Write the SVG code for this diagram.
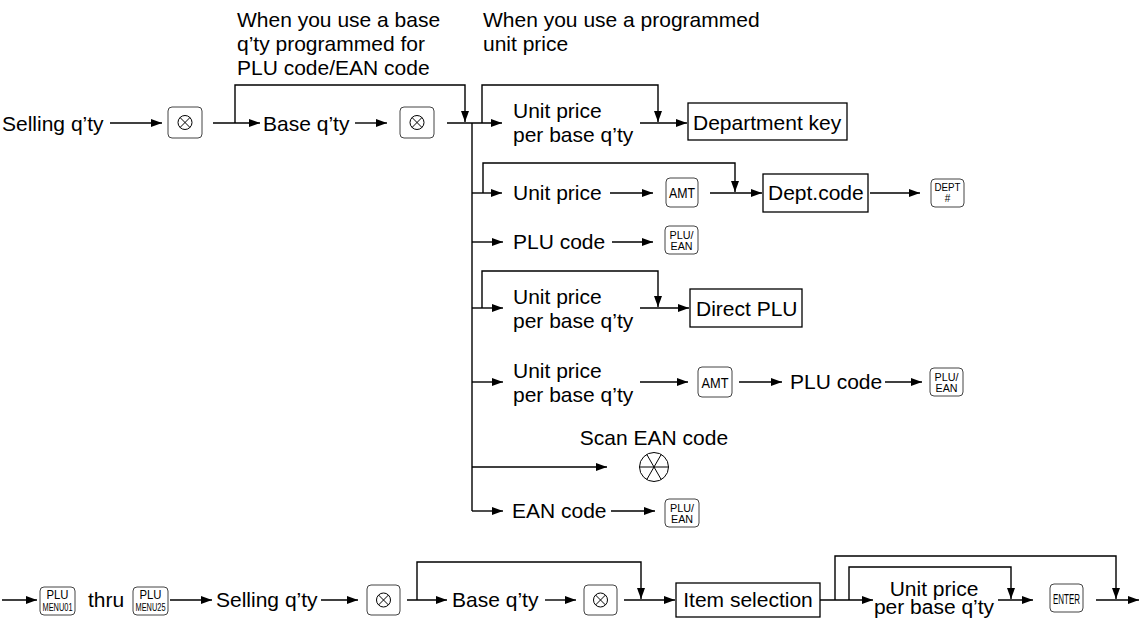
<svg xmlns="http://www.w3.org/2000/svg" width="1141" height="619" viewBox="0 0 1141 619">
<defs>
<marker id="ah" markerUnits="userSpaceOnUse" markerWidth="11" markerHeight="8" refX="11" refY="4" orient="auto"><path d="M0,0 L11,4 L0,8 z" fill="#000"/></marker>
<style>
.t{font-family:"Liberation Sans",Arial,sans-serif;font-size:21px;fill:#000}
.k{font-family:"Liberation Sans",Arial,sans-serif;fill:#000}
.key{fill:#fff;stroke:#444;stroke-width:1}
.box{fill:#fff;stroke:#000;stroke-width:1.3}
.c{fill:none;stroke:#000;stroke-width:1.4}
.a{fill:none;stroke:#000;stroke-width:1.4;marker-end:url(#ah)}
.x{fill:none;stroke:#000;stroke-width:1}
</style>
</defs>
<rect width="1141" height="619" fill="#fff"/>

<g id="connectors">
<path class="a" d="M110,123 H162"/>
<path class="a" d="M213,123 H260"/>
<path class="a" d="M235,123 V85 H465 V122"/>
<path class="a" d="M355,123 H387"/>
<path class="a" d="M447,123 H502"/>
<path class="c" d="M472,123 V511"/>
<path class="a" d="M482,123 V85 H658 V122"/>
<path class="a" d="M640,123 H687"/>
<path class="a" d="M472,193 H502"/>
<path class="a" d="M483,193 V163 H735 V192"/>
<path class="a" d="M610,193 H653"/>
<path class="a" d="M710,193 H762"/>
<path class="a" d="M870,193 H920"/>
<path class="a" d="M472,242 H503"/>
<path class="a" d="M612,242 H653"/>
<path class="a" d="M472,308 H503"/>
<path class="a" d="M482,308 V271 H658 V307"/>
<path class="a" d="M640,308 H689"/>
<path class="a" d="M472,382 H503"/>
<path class="a" d="M640,382 H688"/>
<path class="a" d="M739,382 H782"/>
<path class="a" d="M885,382 H922"/>
<path class="a" d="M472,467 H607"/>
<path class="a" d="M472,511 H503"/>
<path class="a" d="M611,511 H655"/>
<path class="a" d="M2,600 H37"/>
<path class="a" d="M170,600 H212"/>
<path class="a" d="M321,600 H358"/>
<path class="a" d="M407,600 H447"/>
<path class="a" d="M417,600 V562 H641 V599"/>
<path class="a" d="M545,600 H576"/>
<path class="a" d="M624,600 H675"/>
<path class="a" d="M820,600 H873"/>
<path class="a" d="M835,600 V556 H1116 V599"/>
<path class="a" d="M849,600 V567 H1011 V599"/>
<path class="a" d="M998,600 H1033"/>
<path class="a" d="M1096,600 H1139"/>
</g>

<g id="label-base-qty-note">
<text class="t" x="237" y="27">When you use a base</text>
<text class="t" x="237" y="51">q’ty programmed for</text>
<text class="t" x="237" y="75">PLU code/EAN code</text>
</g>
<g id="label-unit-price-note">
<text class="t" x="483" y="27">When you use a programmed</text>
<text class="t" x="483" y="51">unit price</text>
</g>

<g id="selling-qty-1"><text class="t" x="2" y="131">Selling q’ty</text></g>
<g id="x-key-1">
<rect class="key" x="168" y="107" width="34" height="31" rx="4"/>
<circle class="x" cx="185" cy="122.5" r="7"/>
<path class="x" d="M180,117.5 L190,127.5 M190,117.5 L180,127.5"/>
</g>
<g id="base-qty-1"><text class="t" x="263" y="131">Base q’ty</text></g>
<g id="x-key-2">
<rect class="key" x="400" y="107" width="34" height="31" rx="4"/>
<circle class="x" cx="417" cy="122.5" r="7"/>
<path class="x" d="M412,117.5 L422,127.5 M422,117.5 L412,127.5"/>
</g>

<g id="unit-price-1">
<text class="t" x="513" y="118">Unit price</text>
<text class="t" x="513" y="142">per base q’ty</text>
</g>
<g id="department-key">
<rect class="box" x="688" y="103" width="159" height="37"/>
<text class="t" x="693" y="130">Department key</text>
</g>

<g id="unit-price-2"><text class="t" x="513" y="200">Unit price</text></g>
<g id="amt-key-1">
<rect class="key" x="666" y="178" width="32" height="29" rx="4"/>
<text class="k" x="682" y="198" font-size="15" text-anchor="middle" textLength="26" lengthAdjust="spacingAndGlyphs">AMT</text>
</g>
<g id="dept-code">
<rect class="box" x="763" y="174" width="105" height="38"/>
<text class="t" x="768" y="200">Dept.code</text>
</g>
<g id="dept-key">
<rect class="key" x="931" y="179" width="33" height="28" rx="4"/>
<text class="k" x="947.5" y="191" font-size="11" text-anchor="middle" textLength="26" lengthAdjust="spacingAndGlyphs">DEPT</text>
<text class="k" x="947.5" y="202" font-size="10" text-anchor="middle">#</text>
</g>

<g id="plu-code-1"><text class="t" x="513" y="249">PLU code</text></g>
<g id="plu-ean-key-1">
<rect class="key" x="665" y="226" width="33" height="28" rx="4"/>
<text class="k" x="681.5" y="238.5" font-size="11" text-anchor="middle" textLength="24" lengthAdjust="spacingAndGlyphs">PLU/</text>
<text class="k" x="681.5" y="249.5" font-size="11" text-anchor="middle" textLength="22" lengthAdjust="spacingAndGlyphs">EAN</text>
</g>

<g id="unit-price-3">
<text class="t" x="513" y="304">Unit price</text>
<text class="t" x="513" y="328">per base q’ty</text>
</g>
<g id="direct-plu">
<rect class="box" x="690" y="289" width="112" height="38"/>
<text class="t" x="696" y="316">Direct PLU</text>
</g>

<g id="unit-price-4">
<text class="t" x="513" y="378">Unit price</text>
<text class="t" x="513" y="402">per base q’ty</text>
</g>
<g id="amt-key-2">
<rect class="key" x="698" y="367" width="34" height="30" rx="4"/>
<text class="k" x="715" y="388" font-size="15" text-anchor="middle" textLength="27" lengthAdjust="spacingAndGlyphs">AMT</text>
</g>
<g id="plu-code-2"><text class="t" x="790" y="389">PLU code</text></g>
<g id="plu-ean-key-2">
<rect class="key" x="930" y="368" width="33" height="28" rx="4"/>
<text class="k" x="946.5" y="380.5" font-size="11" text-anchor="middle" textLength="24" lengthAdjust="spacingAndGlyphs">PLU/</text>
<text class="k" x="946.5" y="391.5" font-size="11" text-anchor="middle" textLength="22" lengthAdjust="spacingAndGlyphs">EAN</text>
</g>

<g id="scan-ean">
<text class="t" x="654" y="445" text-anchor="middle">Scan EAN code</text>
<circle class="x" cx="654" cy="467" r="14.5" stroke-width="1.3"/>
<path class="x" stroke-width="1.3" d="M639.5,467 H668.5 M646.75,454.4 L661.25,479.6 M661.25,454.4 L646.75,479.6"/>
</g>

<g id="ean-code"><text class="t" x="512" y="518">EAN code</text></g>
<g id="plu-ean-key-3">
<rect class="key" x="665" y="499" width="34" height="28" rx="4"/>
<text class="k" x="682" y="511.5" font-size="11" text-anchor="middle" textLength="24" lengthAdjust="spacingAndGlyphs">PLU/</text>
<text class="k" x="682" y="522.5" font-size="11" text-anchor="middle" textLength="22" lengthAdjust="spacingAndGlyphs">EAN</text>
</g>

<g id="plu-menu01-key">
<rect class="key" x="40" y="587" width="35" height="28" rx="4"/>
<text class="k" x="57.5" y="599" font-size="12" text-anchor="middle" textLength="22" lengthAdjust="spacingAndGlyphs">PLU</text>
<text class="k" x="57.5" y="611" font-size="10" text-anchor="middle" textLength="30" lengthAdjust="spacingAndGlyphs">MENU01</text>
</g>
<g id="thru"><text class="t" x="88" y="607">thru</text></g>
<g id="plu-menu25-key">
<rect class="key" x="133" y="587" width="35" height="28" rx="4"/>
<text class="k" x="150.5" y="599" font-size="12" text-anchor="middle" textLength="22" lengthAdjust="spacingAndGlyphs">PLU</text>
<text class="k" x="150.5" y="611" font-size="10" text-anchor="middle" textLength="30" lengthAdjust="spacingAndGlyphs">MENU25</text>
</g>
<g id="selling-qty-2"><text class="t" x="216" y="607">Selling q’ty</text></g>
<g id="x-key-3">
<rect class="key" x="367" y="585" width="33" height="30" rx="4"/>
<circle class="x" cx="383.5" cy="600" r="7"/>
<path class="x" d="M378.5,595 L388.5,605 M388.5,595 L378.5,605"/>
</g>
<g id="base-qty-2"><text class="t" x="452" y="607">Base q’ty</text></g>
<g id="x-key-4">
<rect class="key" x="584" y="585" width="33" height="30" rx="4"/>
<circle class="x" cx="600.5" cy="600" r="7"/>
<path class="x" d="M595.5,595 L605.5,605 M605.5,595 L595.5,605"/>
</g>
<g id="item-selection">
<rect class="box" x="676" y="583" width="144" height="34"/>
<text class="t" x="748" y="607" text-anchor="middle">Item selection</text>
</g>
<g id="unit-price-5">
<text class="t" transform="matrix(1,0,0,0.92,934,596)" text-anchor="middle">Unit price</text>
<text class="t" transform="matrix(1,0,0,0.92,934,614)" text-anchor="middle">per base q’ty</text>
</g>
<g id="enter-key">
<rect class="key" x="1050" y="584" width="33" height="28" rx="4"/>
<text class="k" x="1066.5" y="604" font-size="14" text-anchor="middle" textLength="27" lengthAdjust="spacingAndGlyphs">ENTER</text>
</g>
</svg>
